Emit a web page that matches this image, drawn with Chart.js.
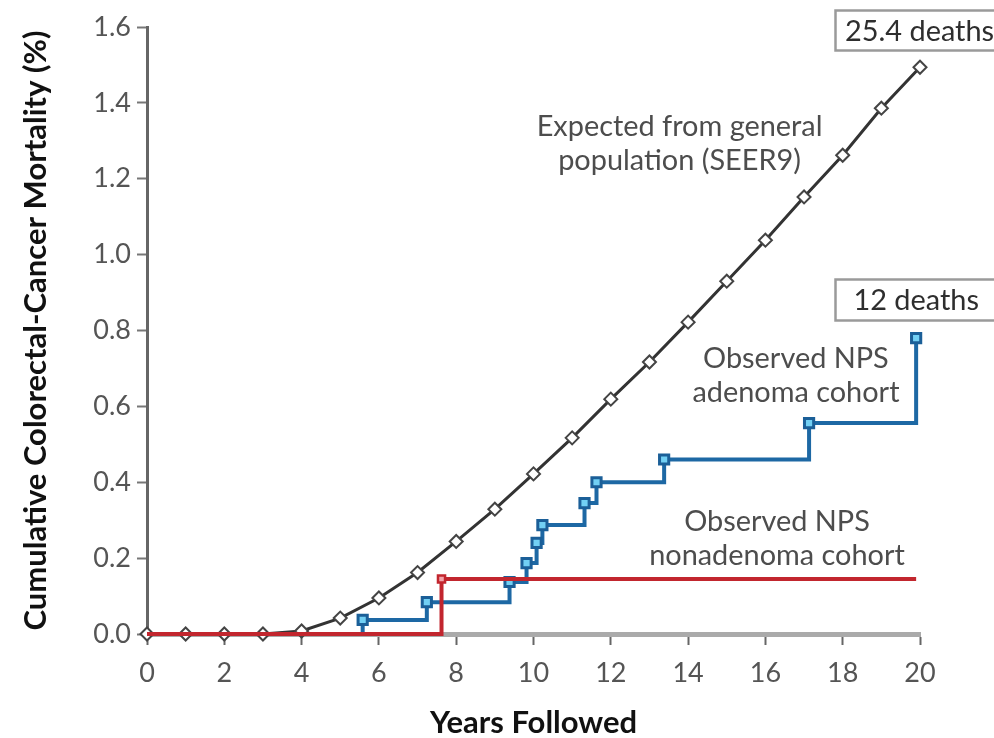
<!DOCTYPE html>
<html><head><meta charset="utf-8">
<script src="https://cdn.jsdelivr.net/npm/chart.js@4"></script>
<style>html,body{margin:0;padding:0;background:#fff;}canvas{display:block;}</style>
</head><body>
<canvas id="c" width="994" height="738"></canvas>
<script>
// ---- data ----
const years = [0,1,2,3,4,5,6,7,8,9,10,11,12,13,14,15,16,17,18,19,20];
const expectedSEER9 = [0,0,0,0,0.008,0.042,0.095,0.162,0.244,0.329,0.422,0.517,0.619,0.717,0.822,0.93,1.038,1.152,1.262,1.386,1.494];
const adenomaYears = [0,5.58,7.24,9.38,9.82,10.08,10.23,11.32,11.63,13.38,17.13,19.9];
const adenomaMortality = [0,0.037,0.084,0.137,0.187,0.24,0.287,0.345,0.40,0.46,0.556,0.78];
const nonadenomaYears = [0,7.62,19.9];
const nonadenomaMortality = [0,0.145,0.145];
const xTickValues = [0,2,4,6,8,10,12,14,16,18,20];
const yTickValues = [0,0.2,0.4,0.6,0.8,1.0,1.2,1.4,1.6];
const xTitle = 'Years Followed';
const yTitle = 'Cumulative Colorectal-Cancer Mortality (%)';
const seerLabel = ['Expected from general','population (SEER9)'];
const adenomaLabel = ['Observed NPS','adenoma cohort'];
const nonadenomaLabel = ['Observed NPS','nonadenoma cohort'];
const seerDeaths = '25.4 deaths';
const adenomaDeaths = '12 deaths';

const FAM = 'Lato, "Open Sans", sans-serif';

const annot = {
  id:'annot',
  afterDraw(chart){
    const ctx = chart.ctx, xs = chart.scales.x, ys = chart.scales.y;
    const px = v => xs.getPixelForValue(v), py = v => ys.getPixelForValue(v);
    ctx.save();
    ctx.font = `400 100px ${FAM}`;
    const fs = 100*286/ctx.measureText(seerLabel[0]).width;
    ctx.font = `400 ${fs}px ${FAM}`;
    ctx.fillStyle = '#4d4d4d';
    ctx.textAlign = 'center'; ctx.textBaseline = 'middle';
    const lh = 34;
    const drawLines = (lines, xv, yv) => {
      lines.forEach((t,i)=>ctx.fillText(t, px(xv), py(yv)+i*lh));
    };
    drawLines(seerLabel, 13.78, 1.336);
    drawLines(adenomaLabel, 16.79, 0.727);
    drawLines(nonadenomaLabel, 16.30, 0.295);
    ctx.strokeStyle = '#9a9a9a'; ctx.lineWidth = 2.5;
    const bx = Math.round(px(17.80))+0.5;
    const t1 = Math.round(py(1.645))+0.5, b1 = Math.round(py(1.539))+0.5;
    ctx.strokeRect(bx, t1, 1010-bx, b1-t1);
    const t2 = Math.round(py(0.936))+0.5, b2 = Math.round(py(0.828))+0.5;
    ctx.strokeRect(bx, t2, 1010-bx, b2-t2);
    ctx.fillStyle = '#2e2e2e';
    ctx.textAlign = 'left';
    ctx.fillText(seerDeaths, px(18.06), (t1+b1)/2+1);
    ctx.textAlign = 'center';
    ctx.fillText(adenomaDeaths, px(19.9), (t2+b2)/2+1);
    ctx.restore();
  }
};

new Chart(document.getElementById('c'), {
  type:'line',
  data:{datasets:[
    {label:'Expected', data: years.map((x,i)=>({x, y:expectedSEER9[i]})),
     borderColor:'#333', borderWidth:3, tension:0,
     pointStyle:'rectRot', pointRadius:6.5, pointBackgroundColor:'#fff', pointBorderColor:'#444', pointBorderWidth:2,
     order:2, clip:false},
    {label:'Adenoma', data: adenomaYears.map((x,i)=>({x, y:adenomaMortality[i]})),
     stepped:'before', borderColor:'#1d68a4', borderWidth:4,
     pointStyle:'rect', pointRadius: adenomaYears.map((x,i)=>i===0?0:6.5), pointBackgroundColor:'#72d0f4', pointBorderColor:'#1b5f98', pointBorderWidth:3,
     order:1, clip:false},
    {label:'Nonadenoma', data: nonadenomaYears.map((x,i)=>({x, y:nonadenomaMortality[i]})),
     stepped:'before', borderColor:'#c2262e', borderWidth:4,
     pointStyle:'rect', pointRadius: nonadenomaYears.map((x,i)=>i===1?5:0), pointBackgroundColor:'#f2a3aa', pointBorderColor:'#c2262e', pointBorderWidth:2.5,
     order:0, clip:false}
  ]},
  options:{
    responsive:false, animation:false, devicePixelRatio:1,
    layout:{padding:{top:27,right:74,bottom:0,left:0}},
    plugins:{legend:{display:false}, tooltip:{enabled:false}},
    scales:{
      x:{type:'linear', min:0, max:20,
        afterBuildTicks: s => { s.ticks = xTickValues.map(v=>({value:v})); },
        afterFit: s => { s.height = 738-634; },
        grid:{drawOnChartArea:false, drawTicks:true, tickLength:11, tickColor:'#666', tickWidth:2},
        border:{color:'#aaaaaa', width:5},
        ticks:{font:{family:FAM, size:27}, color:'#555', padding:12, maxRotation:0},
        title:{display:true, text:xTitle, font:{family:FAM, size:31, weight:'bold', lineHeight:1.0}, color:'#111', padding:{top:0,bottom:0}}
      },
      y:{type:'linear', min:0, max:1.6,
        afterBuildTicks: s => { s.ticks = yTickValues.map(v=>({value:v})); },
        afterFit: s => { s.width = 147; },
        grid:{drawOnChartArea:false, drawTicks:true, tickLength:10, tickColor:'#777', tickWidth:2},
        border:{color:'#666', width:3},
        ticks:{font:{family:FAM, size:27}, color:'#555', padding:6, callback:v=>Number(v).toFixed(1)},
        title:{display:true, text:yTitle, font:{family:FAM, size:31, weight:'bold', lineHeight:1.2}, color:'#111', padding:{top:17,bottom:0}}
      }
    }
  },
  plugins:[annot]
});
</script>
</body></html>
